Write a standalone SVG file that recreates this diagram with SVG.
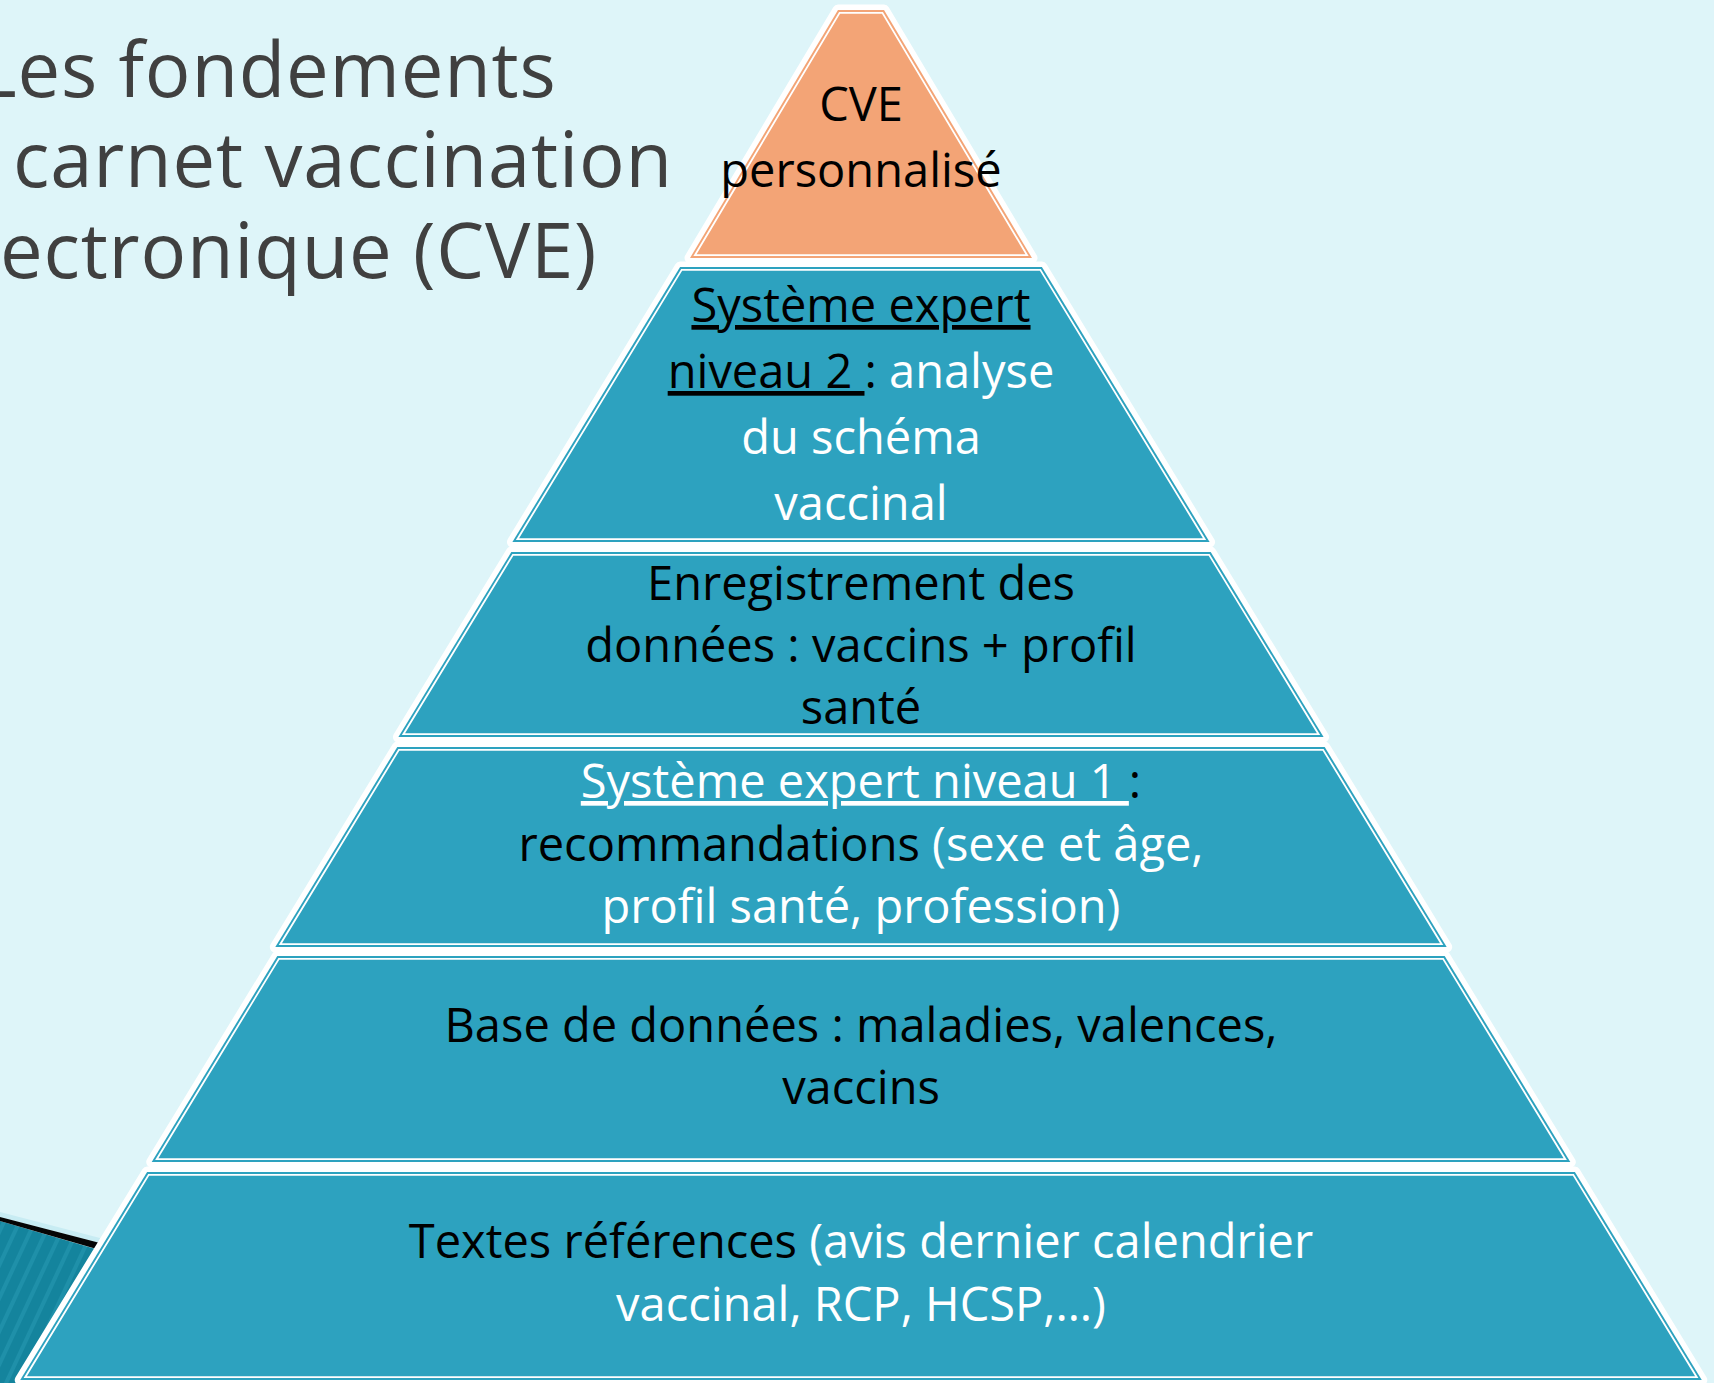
<svg xmlns="http://www.w3.org/2000/svg" width="1714" height="1383" viewBox="0 0 1714 1383">
<defs>
<style>
.bg{fill:#DEF5F9}
.halo{stroke:#FFFFFF;stroke-width:11;stroke-linejoin:round}
.teal{fill:#2DA2BF}
.orange{fill:#F3A476}
.inner{fill:none;stroke:#FFFFFF;stroke-width:1.8}
.t{font-family:"Open Sans","DejaVu Sans",sans-serif;font-size:47px;text-anchor:middle}
.title{font-family:"Open Sans","DejaVu Sans",sans-serif;font-size:76px;fill:#404040;letter-spacing:0.8px}
.k{fill:#000000}
.w{fill:#FFFFFF}
.u{text-decoration:underline}
</style>
<pattern id="stripes" width="14" height="14" patternUnits="userSpaceOnUse" patternTransform="rotate(25)">
<rect width="14" height="14" fill="#14849D"/>
<rect width="4" height="14" fill="#1F90A9"/>
</pattern>
</defs>
<rect class="bg" x="0" y="0" width="1714" height="1383"/>

<g id="decoration">
<polygon points="0,1221 140,1262 140,1383 0,1383" fill="url(#stripes)"/>
<polygon points="0,1212 100,1238 100,1243 0,1217" fill="#C8ECF3"/>
<polygon points="0,1217 100,1243 100,1250 0,1221" fill="#050505"/>
</g>

<g id="layer6">
<polygon class="teal halo" points="147.1,1172 1574.9,1172 1701.8,1380 20.2,1380"/>
<polygon class="teal" points="147.1,1172 1574.9,1172 1701.8,1380 20.2,1380"/>
<polygon class="inner" points="148.7,1174.8 1573.3,1174.8 1696.8,1377.2 25.2,1377.2"/>
<text class="t" x="861" y="1258"><tspan class="k">Textes références</tspan><tspan class="w"> (avis dernier calendrier</tspan></text>
<text class="t w" x="861" y="1321">vaccinal, RCP, HCSP,…)</text>
</g>

<g id="layer5">
<polygon class="teal halo" points="277.3,956 1444.7,956 1570.3,1162 151.7,1162"/>
<polygon class="teal" points="277.3,956 1444.7,956 1570.3,1162 151.7,1162"/>
<polygon class="inner" points="278.9,958.8 1443.1,958.8 1565.3,1159.2 156.7,1159.2"/>
<text class="t k" x="861" y="1042">Base de données : maladies, valences,</text>
<text class="t k" x="861" y="1104">vaccins</text>
</g>

<g id="layer4">
<polygon class="teal halo" points="397.3,747 1324.7,747 1446.7,947 275.3,947"/>
<polygon class="teal" points="397.3,747 1324.7,747 1446.7,947 275.3,947"/>
<polygon class="inner" points="398.9,749.8 1323.1,749.8 1441.7,944.2 280.3,944.2"/>
<text class="t" x="861" y="798" xml:space="preserve"><tspan class="w u">Système expert niveau 1 </tspan><tspan class="k">:</tspan></text>
<text class="t" x="861" y="861"><tspan class="k">recommandations</tspan><tspan class="w"> (sexe et âge,</tspan></text>
<text class="t w" x="861" y="923">profil santé, profession)</text>
</g>

<g id="layer3">
<polygon class="teal halo" points="511.3,552 1210.7,552 1323.6,737 398.4,737"/>
<polygon class="teal" points="511.3,552 1210.7,552 1323.6,737 398.4,737"/>
<polygon class="inner" points="512.9,554.8 1209.1,554.8 1318.6,734.2 403.4,734.2"/>
<text class="t k" x="861" y="600">Enregistrement des</text>
<text class="t k" x="861" y="662">données : vaccins + profil</text>
<text class="t k" x="861" y="724">santé</text>
</g>

<g id="layer2">
<polygon class="teal halo" points="680.1,267 1041.9,267 1209.6,542 512.4,542"/>
<polygon class="teal" points="680.1,267 1041.9,267 1209.6,542 512.4,542"/>
<polygon class="inner" points="681.7,269.8 1040.3,269.8 1204.6,539.2 517.4,539.2"/>
<text class="t k" x="861" y="322"><tspan class="u">Système expert</tspan></text>
<text class="t" x="861" y="388" xml:space="preserve"><tspan class="k u">niveau 2 </tspan><tspan class="k">:</tspan><tspan class="w"> analyse</tspan></text>
<text class="t w" x="861" y="454">du schéma</text>
<text class="t w" x="861" y="520">vaccinal</text>
</g>

<g id="layer1">
<polygon class="orange halo" points="838,10 884,10 1032,258 690,258"/>
<polygon class="orange" points="838,10 884,10 1032,258 690,258"/>
<polygon class="inner" points="839.6,12.8 882.4,12.8 1027.1,255.2 694.9,255.2"/>
<text class="t k" x="861" y="121">CVE</text>
<text class="t k" x="861" y="187">personnalisé</text>
</g>

<g id="title">
<text class="title" x="-23" y="97">Les fondements</text>
<text class="title" x="13" y="187">carnet vaccination</text>
<text class="title" x="0" y="278">ectronique (CVE)</text>
</g>
</svg>
